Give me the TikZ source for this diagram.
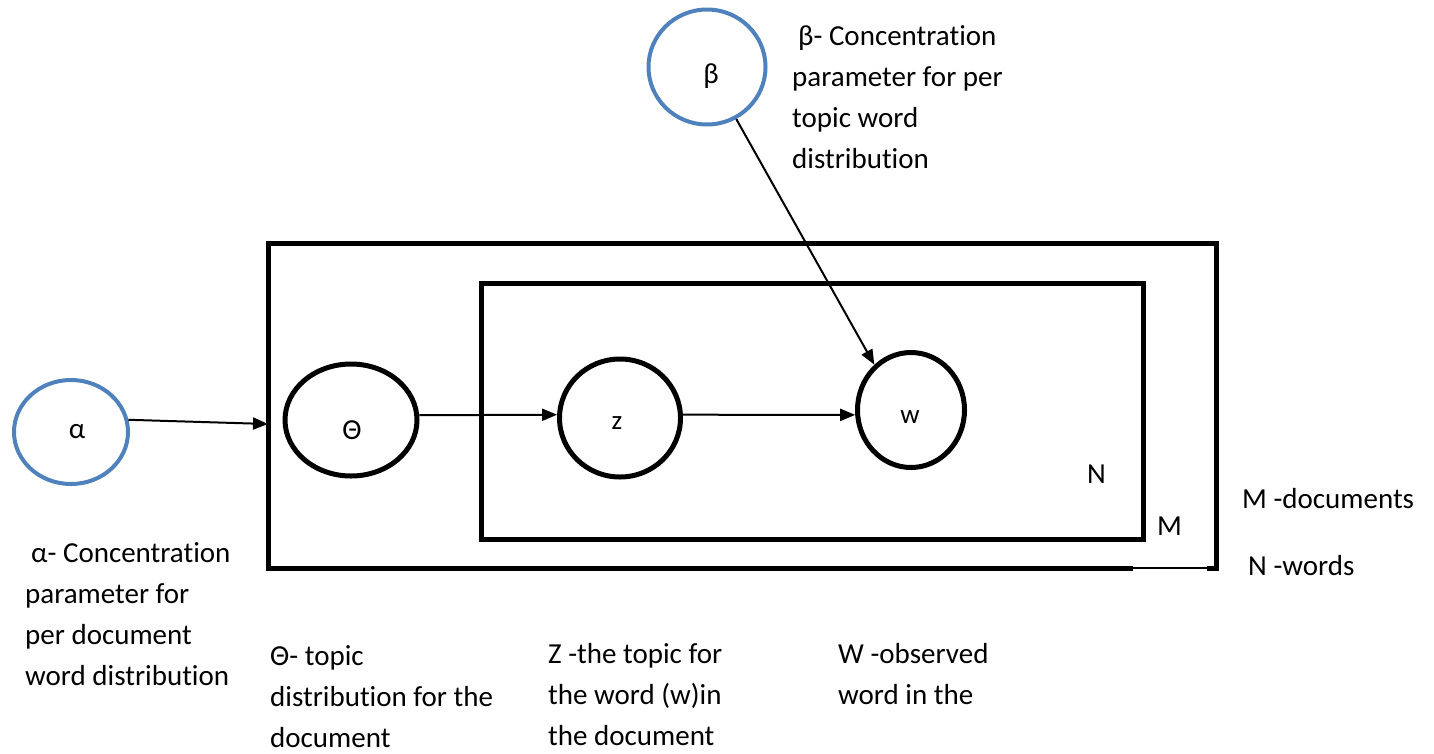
\documentclass[tikz,border=0pt]{standalone}
\usepackage{fontspec}
\setmainfont[RawFeature=-liga]{Carlito}
\usetikzlibrary{shapes.geometric,arrows.meta}
\definecolor{hyperblue}{HTML}{4F81BD}

% multi-line caption whose baseline is the first line
\newcommand\capblock[1]{\begin{tabular}[t]{@{}l@{}}#1\end{tabular}}

\tikzset{
  hyper/.style={ellipse, draw=hyperblue, line width=4pt, inner sep=0pt},
  latent/.style={ellipse, draw=black, line width=5pt, inner sep=0pt},
  plate/.style={line width=5pt},
  edge/.style={line width=2pt, -{Triangle[length=15pt,width=12pt]}},
  caption/.style={anchor=base west, inner sep=0pt, font=\fontsize{29}{41}\selectfont},
  bigsym/.style={inner sep=0pt, font=\fontsize{29}{32}\selectfont},
  smallsym/.style={inner sep=0pt, font=\fontsize{27}{30}\selectfont},
}

\begin{document}
\begin{tikzpicture}[x=1pt, y=-1pt]
\useasboundingbox (0,0) rectangle (1434,753);

% hyperparameters
\node[hyper, minimum width=114pt, minimum height=104pt] (alpha) at (71,432) {};
\node[hyper, minimum width=117pt, minimum height=115pt] (beta) at (707,67) {};
\node[bigsym] (alphaSym) at (77,432) {α};
\node[bigsym] (betaSym) at (711,76) {β};

% latent and observed variables
\node[latent, minimum width=132pt, minimum height=112pt] (theta) at (351,420) {};
\node[latent, minimum width=121pt, minimum height=118pt] (z) at (620,418) {};
\node[latent, minimum width=107pt, minimum height=115pt] (w) at (911,410) {};
\node[bigsym, anchor=base] (thetaSym) at (352,439) {Θ};
\node[smallsym, anchor=base] (zSym) at (617,429) {z};
\node[smallsym, anchor=base] (wSym) at (910,423) {w};

% plates
\node[draw, line width=5pt, inner sep=0pt, minimum width=662pt, minimum height=256pt] (plateN) at (812,411) {};
\coordinate (mA) at (1133,568);
\coordinate (mB) at (268,568);
\coordinate (mC) at (268,243);
\coordinate (mD) at (1216,243);
\coordinate (mE) at (1216,568);
\coordinate (mF) at (1207,568);
\draw[plate] (mA) -- (mB) -- (mC) -- (mD) -- (mE) -- (mF);
\draw[line width=1.5pt] (mA) -- (mF);
\coordinate (alphaIn) at (268,424);

\node[caption] (nLbl) at (1087,483) {N};
\node[caption] (mLbl) at (1157,535) {M};

% dependencies
\draw[edge] (alpha.12) -- (alphaIn);
\draw[edge] (theta.4) -- (z.177);
\draw[edge] (z.3) -- (w.185);
\draw[edge] (beta) -- (w.129);

% legend
\node[caption] (betaTxt) at (792,45) {\capblock{\hspace*{6pt}β- Concentration\\ parameter for per\\ topic word\\ distribution}};
\node[caption] (alphaTxt) at (25,562) {\capblock{\hspace*{6pt}α- Concentration\\ parameter for\\ per document\\ word distribution}};
\node[caption] (thetaTxt) at (270,665) {\capblock{Θ- topic\\ distribution for the\\ document}};
\node[caption] (zTxt) at (548,663) {\capblock{Z -the topic for\\ the word (w)in\\ the document}};
\node[caption] (wTxt) at (838,663) {\capblock{W -observed\\ word in the}};
\node[caption] (mTxt) at (1242,508) {M -documents};
\node[caption] (nTxt) at (1248,575) {N -words};
\end{tikzpicture}
\end{document}
